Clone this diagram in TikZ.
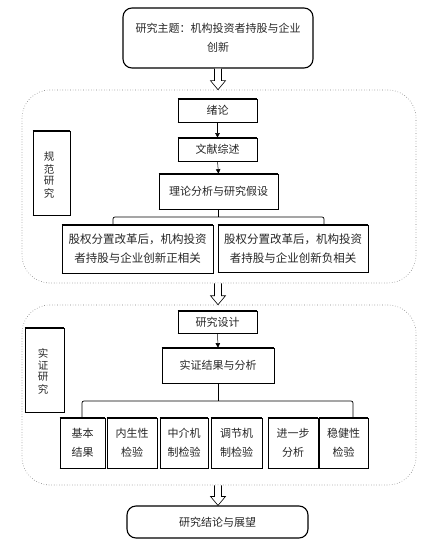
\documentclass[tikz,border=0pt]{standalone}
\usepackage{fontspec}
\setmainfont{Noto Sans CJK SC}
\usetikzlibrary{arrows.meta,calc}
\newcommand\hollowarr[2]{\draw[line width=0.6pt,fill=white] ($(#1)+(-3.5,0)$) -- ($(#2)+(-3.5,-9)$) -- ($(#2)+(-7.5,-9)$) -- (#2) -- ($(#2)+(7.5,-9)$) -- ($(#2)+(3.5,-9)$) -- ($(#1)+(3.5,0)$);}
\begin{document}
\begin{tikzpicture}[x=1pt,y=-1pt,
  every node/.style={font=\fontsize{11}{19}\selectfont, text=black!85, align=center, inner sep=0pt},
  box/.style={draw, line width=0.7pt,
    append after command={(\tikzlastnode.north west) edge[line width=1.5pt] (\tikzlastnode.north east)
      (\tikzlastnode.south west) edge[line width=1.5pt] (\tikzlastnode.south east)}},
  rbox/.style={draw, line width=1.1pt, rounded corners=9pt},
  region/.style={draw, gray, dotted, line width=0.6pt, rounded corners=28pt},
  vch/.style={font=\fontsize{10.5}{12}\selectfont},
  arr/.style={line width=0.5pt, -{Triangle[length=4.5pt,width=4.5pt]}},
  brk/.style={line width=0.7pt, rounded corners=2pt}]
\useasboundingbox (0,0) rectangle (443,545);

\node[rbox, minimum width=190, minimum height=60] (top) at (218,38) {研究主题：机构投资者持股与企业\\创新};

\node[region, minimum width=394, minimum height=193] (r1) at (219,186.5) {};
\node[box, minimum width=79, minimum height=23] (intro) at (217.5,110.5) {绪论};
\node[box, minimum width=79, minimum height=23] (lit) at (217.5,149.5) {文献综述};
\node[box, minimum width=119, minimum height=35] (theo) at (218.5,191.5) {理论分析与研究假设};
\node[box, minimum width=151, minimum height=48, font=\fontsize{11.5}{19}\selectfont] (pos) at (137.5,249) {股权分置改革后，机构投资\\者持股与企业创新正相关};
\node[box, minimum width=150, minimum height=47, font=\fontsize{11.5}{19}\selectfont] (neg) at (293,248.5) {股权分置改革后，机构投资\\者持股与企业创新负相关};
\node[box, minimum width=37, minimum height=84] (norm) at (51.5,173) {};
\node[vch] (n1) at (49,157) {规};
\node[vch] (n2) at (49,169) {范};
\node[vch] (n3) at (49,181) {研};
\node[vch] (n4) at (49,193) {究};

\draw[arr] (intro.south) -- (lit.north);
\draw[arr] (lit.south) -- (theo.north);
\coordinate (b1) at (218.5,217);
\draw[brk] (theo.south) -- (b1);
\draw[brk] (113,224) -- (113,217) -- (324,217) -- (324,224);

\node[region, minimum width=394, minimum height=180] (r2) at (219,395) {};
\node[box, minimum width=79, minimum height=22] (design) at (217.5,322) {研究设计};
\node[box, minimum width=112, minimum height=35] (res) at (218,365.5) {实证结果与分析};
\node[box, minimum width=39, minimum height=84] (emp) at (44.5,370) {};
\node[vch] (e1) at (43,353) {实};
\node[vch] (e2) at (43,365) {证};
\node[vch] (e3) at (43,377) {研};
\node[vch] (e4) at (43,389) {究};
\draw[arr] (design.south) -- (res.north);
\coordinate (b2) at (218,401);
\draw[brk] (res.south) -- (b2);
\draw[brk] (82,417) -- (82,401) -- (353,401) -- (353,417);

\node[box, minimum width=45, minimum height=50] (s1) at (82.5,443) {基本\\结果};
\node[box, minimum width=50, minimum height=50] (s2) at (132,443) {内生性\\检验};
\node[box, minimum width=48, minimum height=50] (s3) at (184,443) {中介机\\制检验};
\node[box, minimum width=51, minimum height=50] (s4) at (236.5,443) {调节机\\制检验};
\node[box, minimum width=50, minimum height=50] (s5) at (293,443) {进一步\\分析};
\node[box, minimum width=49, minimum height=50] (s6) at (343.5,443) {稳健性\\检验};

\node[rbox, minimum width=181, minimum height=32] (concl) at (217.5,522) {研究结论与展望};

\coordinate (a1s) at (top.south);
\coordinate (a1e) at (a1s |- r1.north);
\hollowarr{a1s}{a1e}
\coordinate (a2s) at (a1s |- r1.south);
\coordinate (a2e) at (a1s |- r2.north);
\hollowarr{a2s}{a2e}
\coordinate (a3s) at (a1s |- r2.south);
\coordinate (a3e) at (a1s |- concl.north);
\hollowarr{a3s}{a3e}
\end{tikzpicture}
\end{document}
